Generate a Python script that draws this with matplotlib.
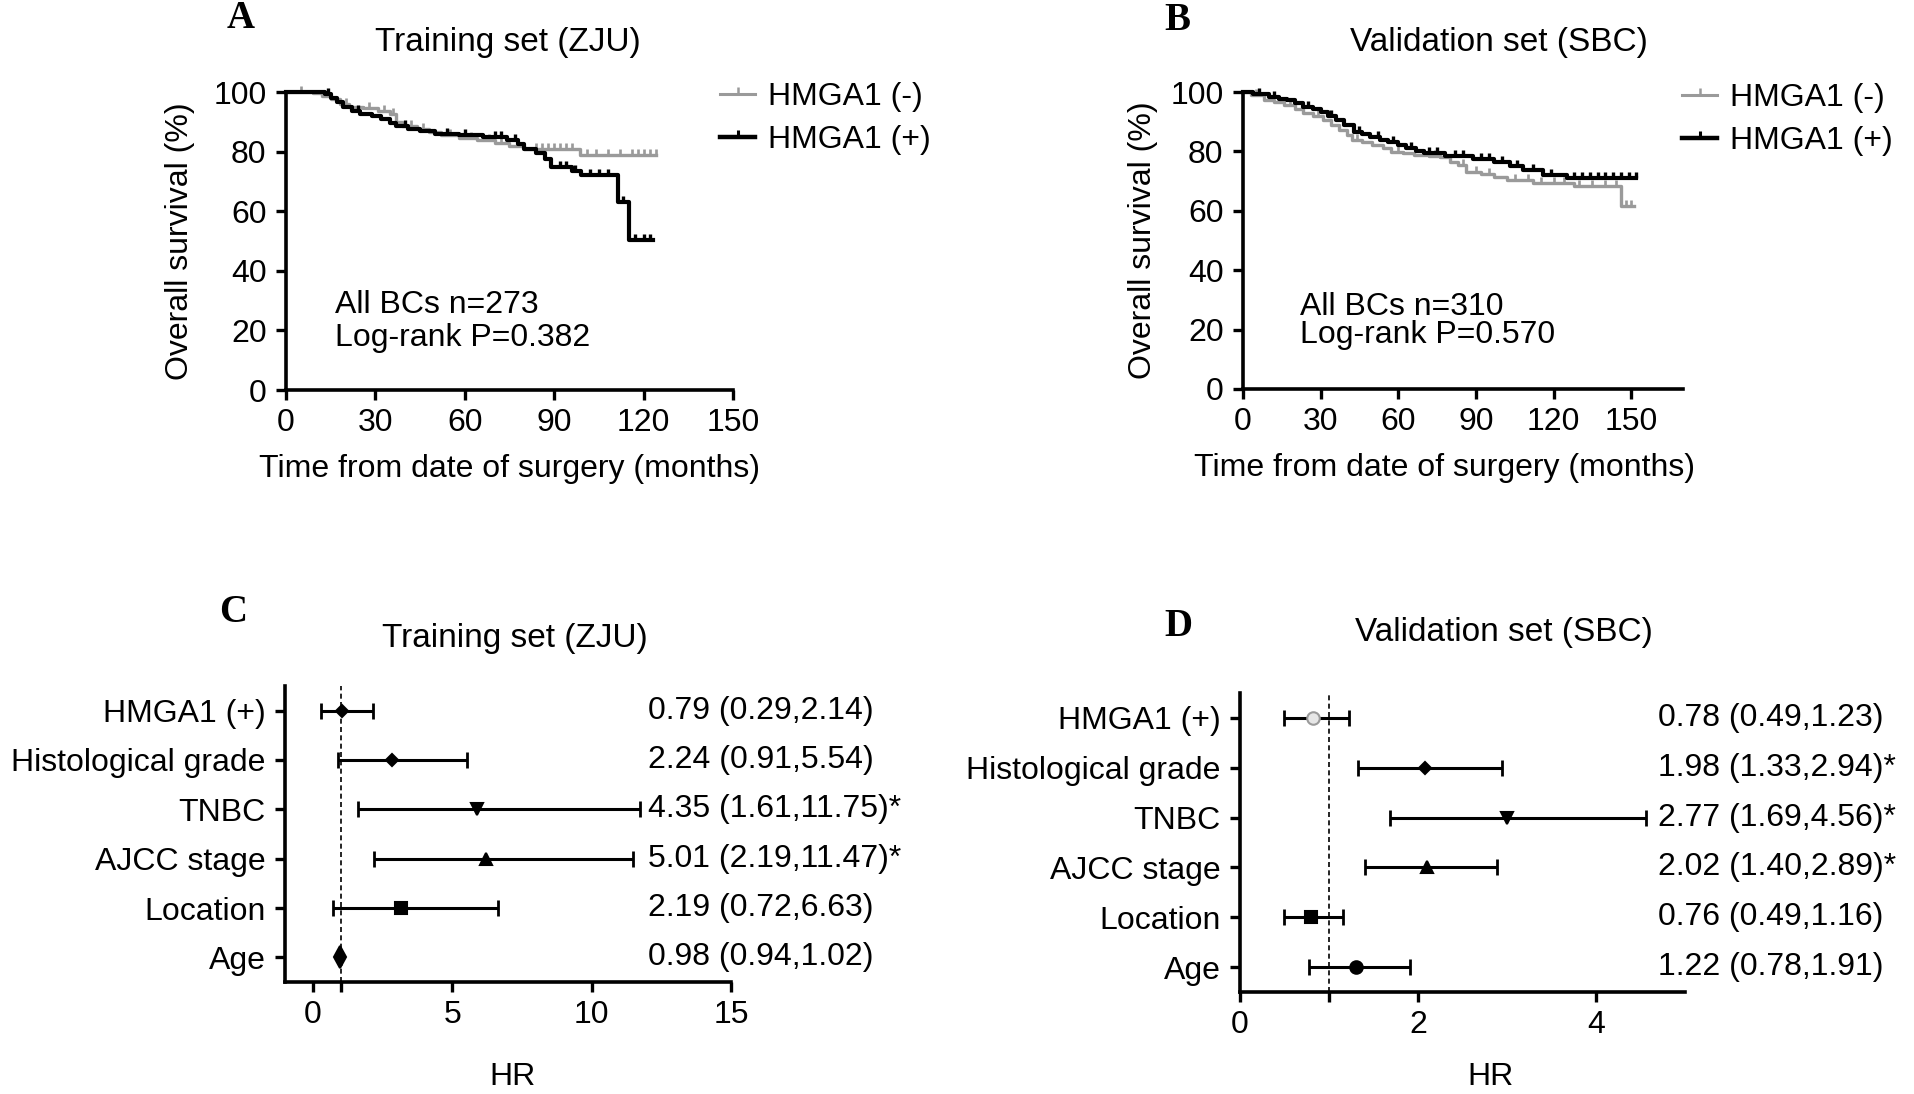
import matplotlib
matplotlib.use('Agg')
import matplotlib.pyplot as plt
import matplotlib.transforms as mtrans
from matplotlib.lines import Line2D
import numpy as np

plt.rcParams['font.family'] = ['Liberation Sans', 'DejaVu Sans']
FS = 23
GRAY = '#9a9a9a'

# ---------------- data ----------------
# Panel A: Training set (ZJU) Kaplan-Meier
A_neg_t = [0, 9, 12, 15, 18, 21, 26, 31, 35, 37, 39, 44, 48, 52, 58, 64, 70, 75, 80, 98.5, 124]
A_neg_s = [100, 99.5, 98.5, 97.5, 96, 95, 94.5, 93.5, 92.5, 90, 88.5, 87.5, 86.5, 85.5, 84.5, 83.8, 83, 82, 81, 79, 79]
A_neg_cens = [5, 20, 28, 33, 36, 42, 46, 55, 62, 68, 72, 84, 86, 88, 90, 92, 94, 96, 101, 104, 108, 112, 116, 118, 120, 122, 124]
A_pos_t = [0, 13, 15, 17, 19, 22, 25, 29, 32, 35, 37, 41, 45, 50, 58, 66, 74, 78, 80, 84, 87, 89, 96, 99, 111.5, 115, 123]
A_pos_s = [100, 99.2, 98, 96.5, 95, 93.5, 92.5, 91.8, 91, 89.5, 88.5, 87.6, 86.8, 86, 85.5, 85, 84, 82.5, 81, 79.5, 77.5, 75, 73.5, 72.2, 63, 50.5, 50.5]
A_pos_cens = [14, 24, 40, 54, 60, 70, 72, 77, 92, 94, 97, 102, 105, 108, 113, 117, 120, 122]

# Panel B: Validation set (SBC) Kaplan-Meier
B_neg_t = [0, 3, 8, 12, 16, 20, 23, 27, 31, 34, 37, 40, 42, 46, 50, 54, 57, 62, 66, 72, 76, 80, 83, 86, 92, 97, 102, 112, 128, 146, 151]
B_neg_s = [100, 99, 97.3, 96.5, 95.6, 94.2, 92.8, 91.8, 90.6, 89, 87.2, 85.5, 83.8, 83, 82.2, 81, 79.9, 79.3, 78.8, 78.4, 78.2, 76.5, 75.4, 73.2, 72.3, 71.5, 70.4, 69.3, 68.2, 61.5, 61.5]
B_neg_cens = [5, 18, 29, 44, 60, 70, 74, 85, 90, 95, 105, 110, 115, 120, 124, 130, 135, 140, 144, 148, 150]
B_pos_t = [0, 4, 10, 14, 17, 20, 23, 27, 30, 33, 36, 39, 43, 46, 49, 53, 56, 60, 63, 67, 70, 78, 89, 97, 103, 108, 116, 125, 152]
B_pos_s = [100, 99.2, 98.4, 97.8, 97.3, 96.2, 95.1, 94.2, 93.4, 92, 90.6, 88.8, 86.6, 85.8, 84.9, 84, 83.3, 82, 81, 80, 79.3, 78.4, 77.6, 76.5, 75, 73.7, 72, 71, 71]
B_pos_cens = [6, 12, 25, 34, 45, 52, 58, 65, 72, 75, 82, 85, 92, 95, 100, 106, 112, 119, 128, 131, 134, 137, 140, 143, 146, 149, 152]

legend_labels = ['HMGA1 (-)', 'HMGA1 (+)']
km_xticks = [0, 30, 60, 90, 120, 150]
km_yticks = [0, 20, 40, 60, 80, 100]

# Forest plots
variables = ['HMGA1 (+)', 'Histological grade', 'TNBC', 'AJCC stage', 'Location', 'Age']
C_point = [1.05, 2.85, 5.9, 6.2, 3.15, 0.98]
C_lo = [0.29, 0.91, 1.61, 2.19, 0.72, 0.94]
C_hi = [2.14, 5.54, 11.75, 11.47, 6.63, 1.02]
C_text = ['0.79 (0.29,2.14)', '2.24 (0.91,5.54)', '4.35 (1.61,11.75)*',
          '5.01 (2.19,11.47)*', '2.19 (0.72,6.63)', '0.98 (0.94,1.02)']
D_point = [0.82, 2.08, 3.0, 2.1, 0.8, 1.3]
D_lo = [0.49, 1.33, 1.69, 1.40, 0.49, 0.78]
D_hi = [1.23, 2.94, 4.56, 2.89, 1.16, 1.91]
D_text = ['0.78 (0.49,1.23)', '1.98 (1.33,2.94)*', '2.77 (1.69,4.56)*',
          '2.02 (1.40,2.89)*', '0.76 (0.49,1.16)', '1.22 (0.78,1.91)']

# ---------------- figure ----------------
W, H = 1915, 1094
fig = plt.figure(figsize=(W / 100, H / 100), dpi=100)


def px_axes(x0, y0, x1, y1):
    return fig.add_axes([x0 / W, 1 - y1 / H, (x1 - x0) / W, (y1 - y0) / H])


def style(ax):
    for s in ['top', 'right']:
        ax.spines[s].set_visible(False)
    for s in ['left', 'bottom']:
        ax.spines[s].set_linewidth(2.6)
    ax.tick_params(direction='out', length=7, width=2.4, labelsize=FS, pad=6)
    ax.tick_params(axis='y', pad=7)


def km(ax, t, s, cens, color, lw):
    t = np.asarray(t, float)
    s = np.asarray(s, float)
    ax.step(t, s, where='post', color=color, lw=lw, clip_on=False)
    c = np.asarray(cens, float)
    idx = np.searchsorted(t, c, side='right') - 1
    ax.plot(c, s[idx], ls='none', marker=2, ms=4, mew=lw * 0.8, color=color, clip_on=False)


axA = px_axes(286, 92, 733, 390)
axB = px_axes(1243, 92, 1683, 389)
axC = px_axes(285, 686, 731, 982)
axD = px_axes(1240, 693, 1685, 992)

for ax, (nt, ns, nc, pt, ps, pc), xmax, ann, lx, lrow, ylx, xlx in [
        (axA, (A_neg_t, A_neg_s, A_neg_cens, A_pos_t, A_pos_s, A_pos_cens), 150,
         ('All BCs n=273', 'Log-rank P=0.382'), (720, 82), (0.110, 0.285, 0.175), -0.204, 0.501),
        (axB, (B_neg_t, B_neg_s, B_neg_cens, B_pos_t, B_pos_s, B_pos_cens), 170,
         ('All BCs n=310', 'Log-rank P=0.570'), (1682, 83), (0.130, 0.276, 0.182), -0.193, 0.457)]:
    style(ax)
    km(ax, nt, ns, nc, GRAY, 2.4)
    km(ax, pt, ps, pc, 'black', 3.0)
    ax.set_xlim(0, xmax)
    ax.set_ylim(0, 100)
    ax.set_xticks(km_xticks)
    ax.set_yticks(km_yticks)
    ax.set_ylabel('Overall survival (%)', fontsize=FS)
    ax.yaxis.set_label_coords(ylx, 0.5)
    ax.set_xlabel('Time from date of surgery (months)', fontsize=FS)
    ax.xaxis.set_label_coords(xlx, -0.215)
    ax.text(lrow[0], lrow[1], ann[0], transform=ax.transAxes, fontsize=FS, va='center', ha='left')
    ax.text(lrow[0], lrow[2], ann[1], transform=ax.transAxes, fontsize=FS, va='center', ha='left')
    handles = [Line2D([], [], color=GRAY, lw=2.2, marker=2, ms=5, mew=1.8),
               Line2D([], [], color='black', lw=3.2, marker=2, ms=5, mew=2.2)]
    ax.legend(handles, legend_labels, loc='upper left',
              bbox_to_anchor=(lx[0] / W, 1 - lx[1] / H), bbox_transform=fig.transFigure,
              frameon=False, fontsize=FS, handlelength=1.1, handletextpad=0.4,
              labelspacing=0.42, borderpad=0, borderaxespad=0, numpoints=1)


def forest(ax, pts, lo, hi, texts, markers, sizes, mfcs, mecs, xlim, xticks, text_x, hr_y):
    style(ax)
    n = len(pts)
    y = np.arange(n)[::-1]
    for i in range(n):
        ax.errorbar(pts[i], y[i], xerr=[[pts[i] - lo[i]], [hi[i] - pts[i]]], fmt='none',
                    ecolor='black', elinewidth=2.2, capsize=6, capthick=2.0, zorder=2)
        ax.plot(pts[i], y[i], ls='none', marker=markers[i], ms=sizes[i], mfc=mfcs[i],
                mec=mecs[i], mew=1.5, zorder=3)
    ax.axvline(1, ls=(0, (3, 2)), color='black', lw=1.2, zorder=1)
    ax.set_xlim(*xlim)
    ax.set_ylim(-0.5, 5.5)
    ax.set_xticks(xticks)
    ax.set_xticks([1], minor=True)
    ax.tick_params(axis='x', which='minor', length=7, width=2.4)
    ax.set_yticks(y)
    ax.set_yticklabels(variables)
    ax.set_xlabel('HR', fontsize=FS)
    ax.xaxis.set_label_coords(hr_y[0], hr_y[1])
    tr = mtrans.blended_transform_factory(fig.transFigure, ax.transData)
    for i in range(n):
        ax.text(text_x / W, y[i], texts[i], transform=tr, fontsize=FS, va='center', ha='left')


forest(axC, C_point, C_lo, C_hi, C_text,
       ['D', 'D', 'v', '^', 's', 'd'], [6, 6, 8, 8, 9, 11],
       ['black'] * 6, ['black'] * 6, (-1, 15), [0, 5, 10, 15], 648, (0.509, -0.270))
forest(axD, D_point, D_lo, D_hi, D_text,
       ['o', 'D', 'v', '^', 's', 'o'], [9, 6, 8, 8, 9, 9],
       ['#e6e6e6'] + ['black'] * 5, [GRAY] + ['black'] * 5, (0, 5), [0, 2, 4], 1658, (0.564, -0.233))

# titles and panel letters
for txt, x, y in [('Training set (ZJU)', 508, 42), ('Validation set (SBC)', 1499, 42),
                  ('Training set (ZJU)', 515, 638), ('Validation set (SBC)', 1504, 633)]:
    fig.text(x / W, 1 - y / H, txt, fontsize=24, ha='center', va='center')
for txt, x, y in [('A', 241, 18), ('B', 1177, 20), ('C', 233, 613), ('D', 1178, 626)]:
    fig.text(x / W, 1 - y / H, txt, fontsize=28, ha='center', va='center',
             family=['Liberation Serif', 'DejaVu Serif'], weight='bold')

fig.savefig('out.png', dpi=100)
